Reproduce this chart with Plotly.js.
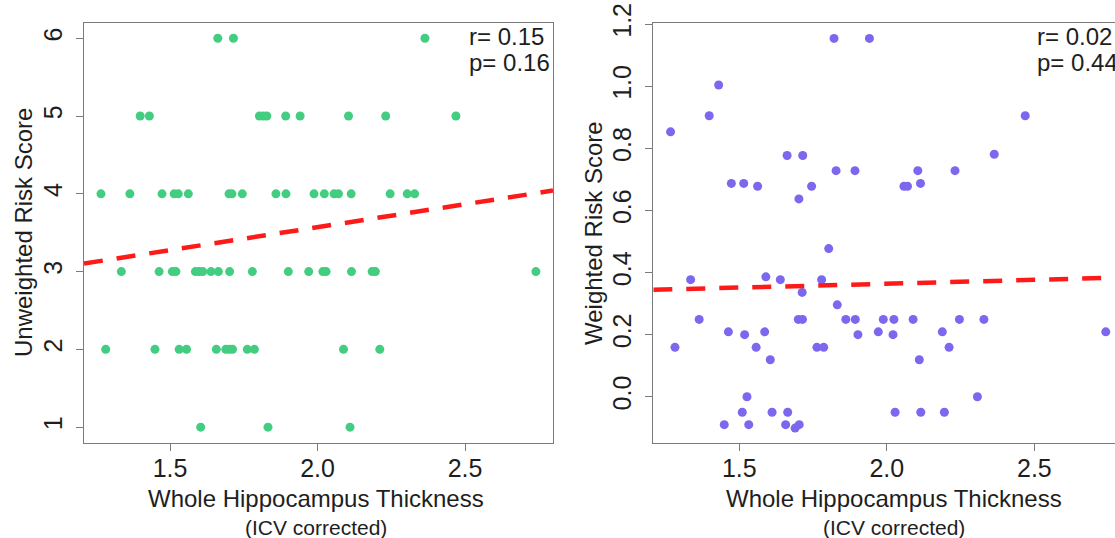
<!DOCTYPE html>
<html>
<head>
<meta charset="utf-8">
<script src="https://cdn.plot.ly/plotly-3.0.1.min.js"></script>
<style>
html, body { margin: 0; padding: 0; overflow: hidden; background: #fff; }
#chart { width: 1125px; height: 538px; }
</style>
</head>
<body>
<div id="chart"></div>
<script>
// ---- data ----
const unweightedX = [
  1.662, 1.715, 2.364,
  1.399, 1.430, 1.803, 1.816, 1.828, 1.892, 1.941, 2.105, 2.231, 2.469,
  1.266, 1.364, 1.473, 1.514, 1.528, 1.562, 1.700, 1.710, 1.745, 1.859, 1.893, 1.988, 2.023, 2.056, 2.071, 2.114, 2.246, 2.304, 2.329,
  1.335, 1.463, 1.508, 1.520, 1.586, 1.598, 1.611, 1.639, 1.664, 1.702, 1.779, 1.901, 1.970, 2.018, 2.029, 2.115, 2.185, 2.196, 2.740,
  1.282, 1.449, 1.531, 1.556, 1.657, 1.689, 1.701, 1.712, 1.762, 1.786, 2.088, 2.211,
  1.604, 1.832, 2.110
];
const unweightedY = [
  6, 6, 6,
  5, 5, 5, 5, 5, 5, 5, 5, 5, 5,
  4, 4, 4, 4, 4, 4, 4, 4, 4, 4, 4, 4, 4, 4, 4, 4, 4, 4, 4,
  3, 3, 3, 3, 3, 3, 3, 3, 3, 3, 3, 3, 3, 3, 3, 3, 3, 3, 3,
  2, 2, 2, 2, 2, 2, 2, 2, 2, 2, 2, 2,
  1, 1, 1
];
const weightedX = [
  1.267, 1.398, 1.430, 1.473, 1.515, 1.562, 1.662, 1.715, 1.702, 1.745, 1.821, 1.828, 1.892, 1.941,
  2.058, 2.070, 2.105, 2.114, 2.231, 2.364, 2.469,
  1.282, 1.335, 1.364, 1.449, 1.463, 1.510, 1.518, 1.526, 1.532, 1.557, 1.590, 1.586, 1.605, 1.611,
  1.639, 1.657, 1.664, 1.689, 1.703, 1.700, 1.714, 1.713, 1.763, 1.786, 1.779, 1.803, 1.832, 1.861,
  1.893, 1.902, 1.971, 1.988, 2.021, 2.024, 2.028, 2.089, 2.110, 2.115, 2.188, 2.195, 2.211, 2.246,
  2.307, 2.329, 2.742
];
const weightedY = [
  0.853, 0.905, 1.004, 0.687, 0.687, 0.678, 0.777, 0.777, 0.637, 0.678, 1.154, 0.728, 0.728, 1.154,
  0.678, 0.678, 0.728, 0.687, 0.728, 0.781, 0.905,
  0.159, 0.377, 0.249, -0.090, 0.209, -0.050, 0.200, 0.000, -0.090, 0.159, 0.386, 0.209, 0.119, -0.050,
  0.377, -0.090, -0.050, -0.101, -0.090, 0.249, 0.249, 0.336, 0.159, 0.159, 0.377, 0.477, 0.296, 0.249,
  0.249, 0.200, 0.209, 0.249, 0.200, 0.249, -0.050, 0.249, 0.119, -0.050, 0.209, -0.050, 0.159, 0.249,
  0.000, 0.249, 0.209
];
// fitted lines: [intercept, slope]
const fitUnweighted = [2.389, 0.591];
const fitWeighted = [0.314, 0.025];
const statsUnweighted = ["r= 0.15", "p= 0.16"];
const statsWeighted = ["r= 0.02", "p= 0.44"];
const xTitle = "Whole Hippocampus Thickness";
const xSubtitle = "(ICV corrected)";
const yTitleLeft = "Unweighted Risk Score";
const yTitleRight = "Weighted Risk Score";

// ---- layout geometry ----
const W = 1125, H = 538;
const xRange = [1.2085, 2.798];
const yRangeL = [0.8, 6.2];
const yRangeR = [-0.148, 1.2045];
const px = v => v / W;
const py = v => 1 - v / H;
const domL = [px(84), px(553)];
const domR = [px(653.3), px(1122.3)];
const domY = [py(442.7), py(22.7)];

function fitLine(coef) {
  const xs = [xRange[0], xRange[1]];
  return { x: xs, y: xs.map(v => coef[0] + coef[1] * v) };
}

const FONT = "Liberation Sans, Arial, Helvetica, sans-serif";
const TXT = "#1e1e1e";
const LINEC = "#7a7a7a";

const fl = fitLine(fitUnweighted);
const fr = fitLine(fitWeighted);

const traces = [
  { type: "scatter", mode: "markers", x: unweightedX, y: unweightedY, xaxis: "x", yaxis: "y",
    marker: { color: "#43CD80", size: 9, line: { width: 0 } }, hoverinfo: "x+y" },
  { type: "scatter", mode: "lines", x: fl.x, y: fl.y, xaxis: "x", yaxis: "y",
    line: { color: "#FF1A1A", width: 4.5, dash: "19px,14px" }, hoverinfo: "skip" },
  { type: "scatter", mode: "markers", x: weightedX, y: weightedY, xaxis: "x2", yaxis: "y2",
    marker: { color: "#7B68EE", size: 9, line: { width: 0 } }, hoverinfo: "x+y" },
  { type: "scatter", mode: "lines", x: fr.x, y: fr.y, xaxis: "x2", yaxis: "y2",
    line: { color: "#FF1A1A", width: 4.5, dash: "19px,14px" }, hoverinfo: "skip" }
];

const axisCommon = {
  showgrid: false, zeroline: false, showline: true, mirror: true,
  linecolor: LINEC, linewidth: 1, ticks: "outside", ticklen: 7, tickcolor: LINEC, tickwidth: 1,
  tickfont: { family: FONT, size: 25, color: TXT }, fixedrange: true
};

const xAxisCommon = Object.assign({}, axisCommon, { range: xRange, dtick: 0.5, tick0: 0, tickformat: ".1f", ticklabelstandoff: -4 });

const ann = [];
function addAnn(text, x, y, opts) {
  ann.push(Object.assign({ text: text, xref: "paper", yref: "paper", x: x, y: y, showarrow: false,
    font: { family: FONT, size: 24, color: TXT } }, opts || {}));
}
// x titles
addAnn(xTitle, px(316), py(498), { xanchor: "center", yanchor: "middle" });
addAnn(xSubtitle, px(316), py(527), { xanchor: "center", yanchor: "middle", font: { family: FONT, size: 21, color: TXT } });
addAnn(xTitle, px(894), py(498), { xanchor: "center", yanchor: "middle" });
addAnn(xSubtitle, px(894), py(527), { xanchor: "center", yanchor: "middle", font: { family: FONT, size: 21, color: TXT } });
// y titles
addAnn(yTitleLeft, px(23), py(233), { xanchor: "center", yanchor: "middle", textangle: -90 });
addAnn(yTitleRight, px(593), py(233), { xanchor: "center", yanchor: "middle", textangle: -90 });
// stats
addAnn(statsUnweighted[0], px(466.5), py(37), { xanchor: "left", yanchor: "middle" });
addAnn(statsUnweighted[1], px(466.5), py(63), { xanchor: "left", yanchor: "middle" });
addAnn(statsWeighted[0], px(1035.3), py(37), { xanchor: "left", yanchor: "middle" });
addAnn(statsWeighted[1], px(1035.3), py(63), { xanchor: "left", yanchor: "middle" });

const layout = {
  width: W, height: H,
  margin: { l: 0, r: 0, t: 0, b: 0 },
  paper_bgcolor: "#ffffff", plot_bgcolor: "#ffffff",
  showlegend: false,
  font: { family: FONT, color: TXT },
  xaxis: Object.assign({}, xAxisCommon, { domain: domL, anchor: "y" }),
  yaxis: Object.assign({}, axisCommon, { domain: domY, anchor: "x", range: yRangeL, dtick: 1, tick0: 0, tickangle: -90, ticklabelstandoff: 4 }),
  xaxis2: Object.assign({}, xAxisCommon, { domain: domR, anchor: "y2" }),
  yaxis2: Object.assign({}, axisCommon, { domain: domY, anchor: "x2", range: yRangeR, dtick: 0.2, tick0: 0, tickformat: ".1f", tickangle: -90, ticklabelstandoff: 4 }),
  annotations: ann
};

Plotly.newPlot("chart", traces, layout, { displayModeBar: false, staticPlot: false });
</script>
</body>
</html>
